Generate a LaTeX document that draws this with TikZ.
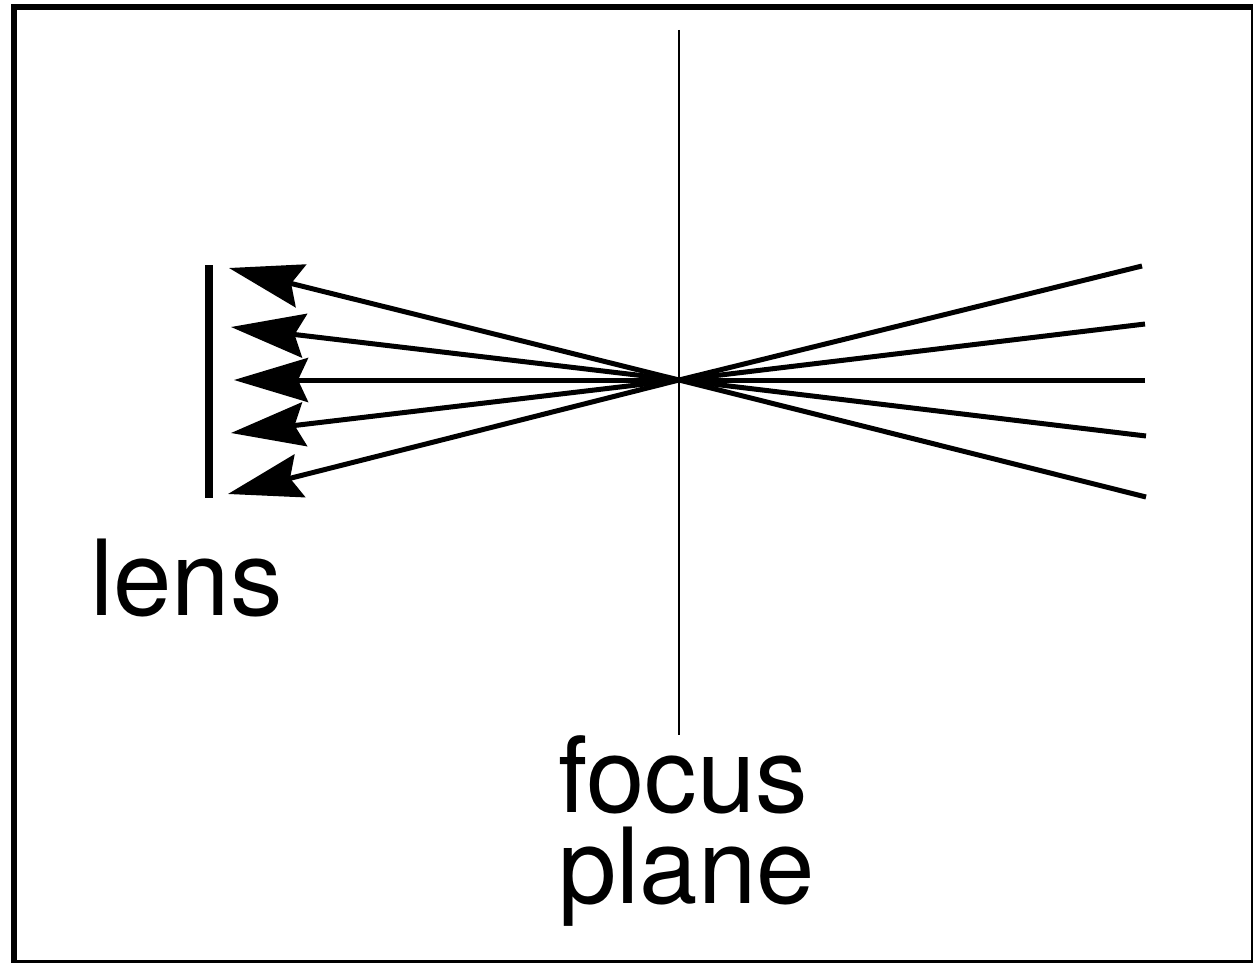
\documentclass[tikz,border=0pt]{standalone}
\usepackage{fontspec}
\setmainfont{TeX Gyre Heros}
\usetikzlibrary{arrows.meta}
\tikzset{
  rayline/.style={line width=5pt},
  ray/.style={rayline, -{Stealth[length=74pt,width=44pt,inset=10pt]}},
  lensbar/.style={line width=8pt},
  plane/.style={line width=2.5pt},
  frame/.style={line width=5.5pt},
  lbl/.style={inner sep=0pt, font=\fontsize{105}{91}\selectfont}
}
\begin{document}
\begin{tikzpicture}[x=1pt,y=-1pt]
\useasboundingbox (0,0) rectangle (1253,963);
\draw[frame] (14,7) rectangle (1253.5,962.5);
% focus plane
\coordinate (PT) at (679,30);
\coordinate (PB) at (679,735);
\draw[plane] (PT) -- (PB);
% focus point
\coordinate (F) at (679,380);
% right ends
\coordinate (R1) at (1142,266);
\coordinate (R2) at (1145,324);
\coordinate (R3) at (1145,380);
\coordinate (R4) at (1146,436);
\coordinate (R5) at (1146,497);
% left tips
\coordinate (L1) at (228,494);
\coordinate (L2) at (231,433);
\coordinate (L3) at (234,380);
\coordinate (L4) at (231,327);
\coordinate (L5) at (229,268);
\foreach \i in {1,...,5}{
  \draw[rayline] (R\i) -- (F);
  \draw[ray] (F) -- (L\i);
}
% lens
\coordinate (LT) at (209,265);
\coordinate (LB) at (209,498);
\draw[lensbar] (LT) -- (LB);
% labels
\node[lbl, anchor=base west] (lens) at (90,615) {lens};
\node[lbl, anchor=base west, align=left] (fp) at (558,903) {focus\\plane};
\end{tikzpicture}
\end{document}
